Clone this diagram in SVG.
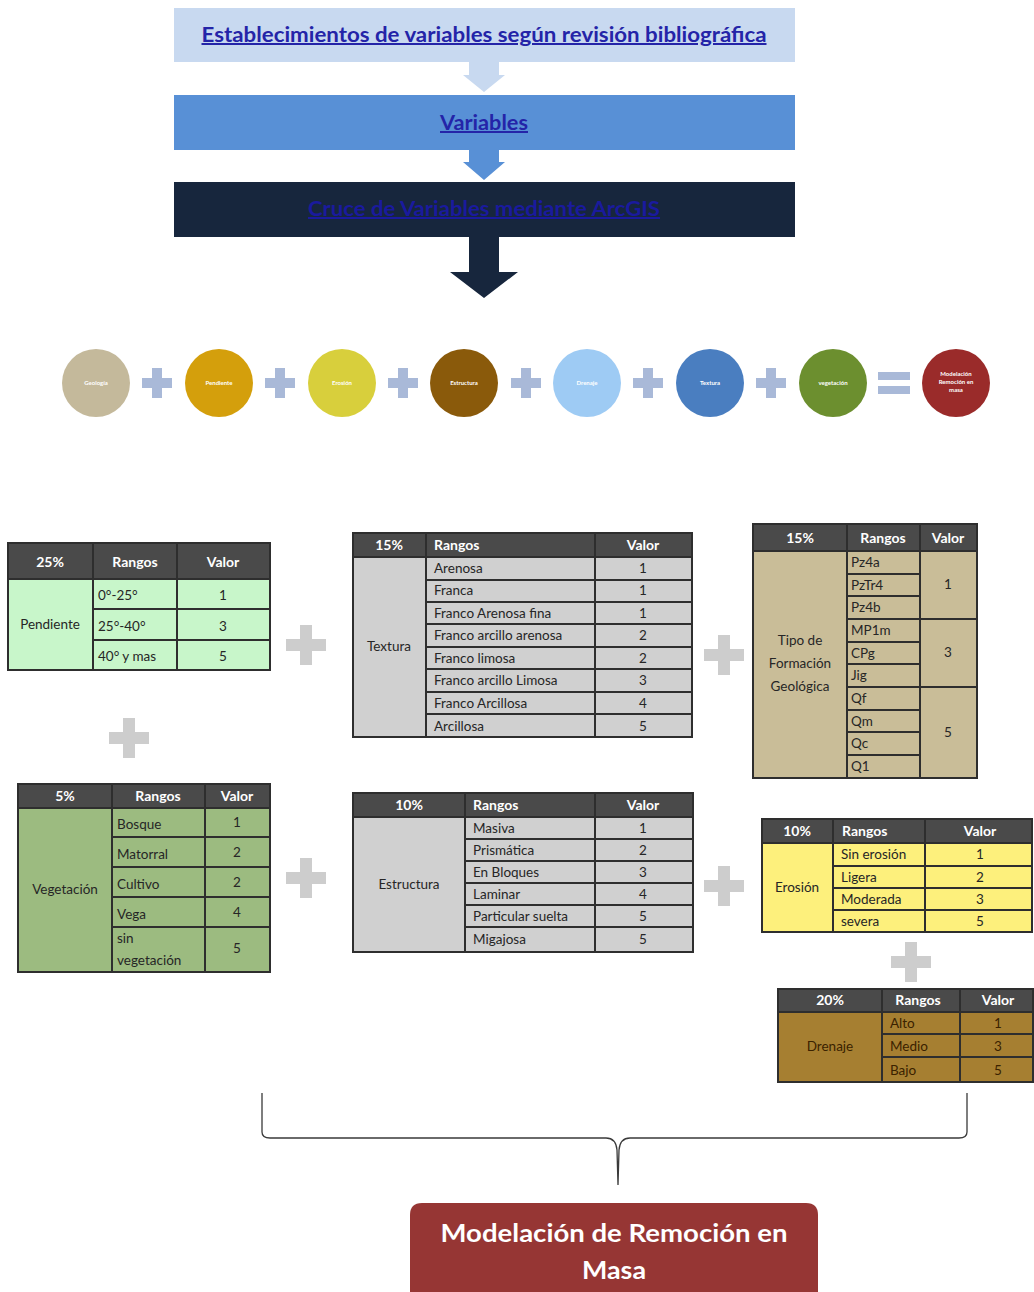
<svg xmlns="http://www.w3.org/2000/svg" width="1034" height="1292" viewBox="0 0 1034 1292">
<style>
text{font-family:Lato,"Liberation Sans",sans-serif;}
.ban{font-size:20px;font-weight:bold;fill:#2424a8;text-decoration:underline;text-anchor:middle;}
.hd{fill:#4a4a4a;}
.ht{font-size:14px;font-weight:bold;fill:#ffffff;}
.bt{font-size:13.5px;fill:#262626;}
.c{text-anchor:middle;}
.grid{stroke:#2e2e2e;stroke-width:2;fill:none;}
.plus{fill:#cdcdcd;}
.bplus{fill:#a9b9d8;}
.ct{font-size:6px;fill:#ffffff;text-anchor:middle;font-weight:bold;}
</style>
<rect width="1034" height="1292" fill="#ffffff"/>

<g id="banner1">
<rect x="174" y="8" width="621" height="54" fill="#c8d9f0"/>
<text class="ban" x="484" y="42" textLength="565" lengthAdjust="spacingAndGlyphs">Establecimientos de variables según revisión bibliográfica</text>
</g>
<g id="banner2">
<rect x="174" y="95" width="621" height="55" fill="#5890d6"/>
<text class="ban" x="484" y="130" textLength="88" lengthAdjust="spacingAndGlyphs">Variables</text>
</g>
<g id="banner3">
<rect x="174" y="182" width="621" height="55" fill="#17263d"/>
<text class="ban" x="484" y="216" style="fill:#1a1a9e" textLength="352" lengthAdjust="spacingAndGlyphs">Cruce de Variables mediante ArcGIS</text>
</g>

<g id="connectors">
<polygon points="469,62 499,62 499,75 505,75 484,92 463,75 469,75" fill="#c8d9f0"/>
<polygon points="469,150 499,150 499,162 505,162 484,180 463,162 469,162" fill="#5890d6"/>
<polygon points="469,237 499,237 499,272 518,272 484,298 450,272 469,272" fill="#17263d"/>
<path d="M262,1093 L262,1132 Q262,1138 270,1138 L606,1138 Q616,1138 617,1150 L618,1185 M618,1185 L619,1150 Q620,1138 630,1138 L959,1138 Q967,1138 967,1132 L967,1093" fill="none" stroke="#3a3a3a" stroke-width="1.3"/>
</g>

<g id="circles">
<g id="c-geologia"><circle cx="96" cy="383" r="34" fill="#c4b99b"/><text class="ct" x="96" y="385">Geología</text></g>
<g id="p1"><rect class="bplus" x="142" y="378" width="30" height="10"/><rect class="bplus" x="152" y="368" width="10" height="30"/></g>
<g id="c-pendiente"><circle cx="219" cy="383" r="34" fill="#d49f0c"/><text class="ct" x="219" y="385">Pendiente</text></g>
<g id="p2"><rect class="bplus" x="265" y="378" width="30" height="10"/><rect class="bplus" x="275" y="368" width="10" height="30"/></g>
<g id="c-erosion"><circle cx="342" cy="383" r="34" fill="#d8cf3c"/><text class="ct" x="342" y="385">Erosión</text></g>
<g id="p3"><rect class="bplus" x="388" y="378" width="30" height="10"/><rect class="bplus" x="398" y="368" width="10" height="30"/></g>
<g id="c-estructura"><circle cx="464" cy="383" r="34" fill="#8a5a0b"/><text class="ct" x="464" y="385">Estructura</text></g>
<g id="p4"><rect class="bplus" x="511" y="378" width="30" height="10"/><rect class="bplus" x="521" y="368" width="10" height="30"/></g>
<g id="c-drenaje"><circle cx="587" cy="383" r="34" fill="#9ecbf4"/><text class="ct" x="587" y="385">Drenaje</text></g>
<g id="p5"><rect class="bplus" x="633" y="378" width="30" height="10"/><rect class="bplus" x="643" y="368" width="10" height="30"/></g>
<g id="c-textura"><circle cx="710" cy="383" r="34" fill="#4a7ec0"/><text class="ct" x="710" y="385">Textura</text></g>
<g id="p6"><rect class="bplus" x="756" y="378" width="30" height="10"/><rect class="bplus" x="766" y="368" width="10" height="30"/></g>
<g id="c-vegetacion"><circle cx="833" cy="383" r="34" fill="#6c8f2f"/><text class="ct" x="833" y="385">vegetación</text></g>
<g id="eq"><rect class="bplus" x="878" y="372" width="32" height="8"/><rect class="bplus" x="878" y="386" width="32" height="8"/></g>
<g id="c-modelacion"><circle cx="956" cy="383" r="34" fill="#9a2b2a"/>
<text class="ct" x="956" y="376">Modelación</text><text class="ct" x="956" y="384">Remoción en</text><text class="ct" x="956" y="392">masa</text></g>
</g>

<g id="t-pendiente">
<rect x="8" y="579" width="262" height="91" fill="#c8f6ca"/>
<rect class="hd" x="8" y="543" width="262" height="36"/>
<path class="grid" d="M8,543 H270 V670 H8 Z M93,543 V670 M177,543 V670 M8,579 H270 M93,609 H270 M93,640 H270"/>
<text class="ht c" x="50" y="567">25%</text><text class="ht c" x="135" y="567">Rangos</text><text class="ht c" x="223" y="567">Valor</text>
<text class="bt c" x="50" y="629">Pendiente</text>
<text class="bt" x="98" y="600">0°-25°</text><text class="bt c" x="223" y="600">1</text>
<text class="bt" x="98" y="631">25°-40°</text><text class="bt c" x="223" y="631">3</text>
<text class="bt" x="98" y="661">40° y mas</text><text class="bt c" x="223" y="661">5</text>
</g>

<g id="t-textura">
<rect x="353" y="557" width="339" height="180" fill="#d0d0d0"/>
<rect class="hd" x="353" y="533" width="339" height="24"/>
<path class="grid" d="M353,533 H692 V737 H353 Z M426,533 V737 M595,533 V737 M353,557 H692 M426,580 H692 M426,602 H692 M426,624 H692 M426,647 H692 M426,669 H692 M426,692 H692 M426,714 H692"/>
<text class="ht c" x="389" y="550">15%</text><text class="ht" x="434" y="550">Rangos</text><text class="ht c" x="643" y="550">Valor</text>
<text class="bt c" x="389" y="651">Textura</text>
<text class="bt" x="434" y="573">Arenosa</text><text class="bt c" x="643" y="573">1</text>
<text class="bt" x="434" y="595">Franca</text><text class="bt c" x="643" y="595">1</text>
<text class="bt" x="434" y="618">Franco Arenosa fina</text><text class="bt c" x="643" y="618">1</text>
<text class="bt" x="434" y="640">Franco arcillo arenosa</text><text class="bt c" x="643" y="640">2</text>
<text class="bt" x="434" y="663">Franco limosa</text><text class="bt c" x="643" y="663">2</text>
<text class="bt" x="434" y="685">Franco arcillo Limosa</text><text class="bt c" x="643" y="685">3</text>
<text class="bt" x="434" y="708">Franco Arcillosa</text><text class="bt c" x="643" y="708">4</text>
<text class="bt" x="434" y="731">Arcillosa</text><text class="bt c" x="643" y="731">5</text>
</g>

<g id="t-geologia">
<rect x="753" y="551" width="224" height="227" fill="#c9bd98"/>
<rect class="hd" x="753" y="524" width="224" height="27"/>
<path class="grid" d="M753,524 H977 V778 H753 Z M847,524 V778 M920,524 V778 M753,551 H977 M847,574 H920 M847,596 H920 M847,619 H977 M847,642 H920 M847,664 H920 M847,687 H977 M847,710 H920 M847,732 H920 M847,755 H920"/>
<text class="ht c" x="800" y="543">15%</text><text class="ht c" x="883" y="543">Rangos</text><text class="ht c" x="948" y="543">Valor</text>
<text class="bt c" x="800" y="645">Tipo de</text><text class="bt c" x="800" y="668">Formación</text><text class="bt c" x="800" y="691">Geológica</text>
<text class="bt" x="851" y="567">Pz4a</text>
<text class="bt" x="851" y="590">PzTr4</text>
<text class="bt" x="851" y="612">Pz4b</text>
<text class="bt" x="851" y="635">MP1m</text>
<text class="bt" x="851" y="658">CPg</text>
<text class="bt" x="851" y="680">Jig</text>
<text class="bt" x="851" y="703">Qf</text>
<text class="bt" x="851" y="726">Qm</text>
<text class="bt" x="851" y="748">Qc</text>
<text class="bt" x="851" y="771">Q1</text>
<text class="bt c" x="948" y="589">1</text><text class="bt c" x="948" y="657">3</text><text class="bt c" x="948" y="737">5</text>
</g>

<g id="t-vegetacion">
<rect x="18" y="808" width="252" height="164" fill="#9cbb80"/>
<rect class="hd" x="18" y="784" width="252" height="24"/>
<path class="grid" d="M18,784 H270 V972 H18 Z M112,784 V972 M205,784 V972 M18,808 H270 M112,837 H270 M112,867 H270 M112,897 H270 M112,927 H270"/>
<text class="ht c" x="65" y="801">5%</text><text class="ht c" x="158" y="801">Rangos</text><text class="ht c" x="237" y="801">Valor</text>
<text class="bt c" x="65" y="894">Vegetación</text>
<text class="bt" x="117" y="829">Bosque</text><text class="bt c" x="237" y="827">1</text>
<text class="bt" x="117" y="859">Matorral</text><text class="bt c" x="237" y="857">2</text>
<text class="bt" x="117" y="889">Cultivo</text><text class="bt c" x="237" y="887">2</text>
<text class="bt" x="117" y="919">Vega</text><text class="bt c" x="237" y="917">4</text>
<text class="bt" x="117" y="943">sin</text><text class="bt" x="117" y="965">vegetación</text><text class="bt c" x="237" y="953">5</text>
</g>

<g id="t-estructura">
<rect x="353" y="817" width="340" height="135" fill="#d0d0d0"/>
<rect class="hd" x="353" y="793" width="340" height="24"/>
<path class="grid" d="M353,793 H693 V952 H353 Z M465,793 V952 M595,793 V952 M353,817 H693 M465,839 H693 M465,861 H693 M465,883 H693 M465,905 H693 M465,927 H693"/>
<text class="ht c" x="409" y="810">10%</text><text class="ht" x="473" y="810">Rangos</text><text class="ht c" x="643" y="810">Valor</text>
<text class="bt c" x="409" y="889">Estructura</text>
<text class="bt" x="473" y="833">Masiva</text><text class="bt c" x="643" y="833">1</text>
<text class="bt" x="473" y="855">Prismática</text><text class="bt c" x="643" y="855">2</text>
<text class="bt" x="473" y="877">En Bloques</text><text class="bt c" x="643" y="877">3</text>
<text class="bt" x="473" y="899">Laminar</text><text class="bt c" x="643" y="899">4</text>
<text class="bt" x="473" y="921">Particular suelta</text><text class="bt c" x="643" y="921">5</text>
<text class="bt" x="473" y="944">Migajosa</text><text class="bt c" x="643" y="944">5</text>
</g>

<g id="t-erosion">
<rect x="762" y="843" width="270" height="89" fill="#fdf07c"/>
<rect class="hd" x="762" y="819" width="270" height="24"/>
<path class="grid" d="M762,819 H1032 V932 H762 Z M833,819 V932 M925,819 V932 M762,843 H1032 M833,866 H1032 M833,888 H1032 M833,910 H1032"/>
<text class="ht c" x="797" y="836">10%</text><text class="ht" x="842" y="836">Rangos</text><text class="ht c" x="980" y="836">Valor</text>
<text class="bt c" x="797" y="892">Erosión</text>
<text class="bt" x="841" y="859">Sin erosión</text><text class="bt c" x="980" y="859">1</text>
<text class="bt" x="841" y="882">Ligera</text><text class="bt c" x="980" y="882">2</text>
<text class="bt" x="841" y="904">Moderada</text><text class="bt c" x="980" y="904">3</text>
<text class="bt" x="841" y="926">severa</text><text class="bt c" x="980" y="926">5</text>
</g>

<g id="t-drenaje">
<rect x="778" y="1012" width="255" height="70" fill="#a67f31"/>
<rect class="hd" x="778" y="989" width="255" height="23"/>
<path class="grid" d="M778,989 H1033 V1082 H778 Z M882,989 V1082 M960,989 V1082 M778,1012 H1033 M882,1034 H1033 M882,1057 H1033"/>
<text class="ht c" x="830" y="1005">20%</text><text class="ht c" x="918" y="1005">Rangos</text><text class="ht c" x="998" y="1005">Valor</text>
<text class="bt c" x="830" y="1051" style="fill:#3a2200">Drenaje</text>
<text class="bt" x="890" y="1028" style="fill:#3a2200">Alto</text><text class="bt c" x="998" y="1028" style="fill:#3a2200">1</text>
<text class="bt" x="890" y="1051" style="fill:#3a2200">Medio</text><text class="bt c" x="998" y="1051" style="fill:#3a2200">3</text>
<text class="bt" x="890" y="1075" style="fill:#3a2200">Bajo</text><text class="bt c" x="998" y="1075" style="fill:#3a2200">5</text>
</g>

<g id="plus-signs">
<g><rect class="plus" x="286" y="639" width="40" height="12"/><rect class="plus" x="300" y="625" width="12" height="40"/></g>
<g><rect class="plus" x="109" y="732" width="40" height="12"/><rect class="plus" x="123" y="718" width="12" height="40"/></g>
<g><rect class="plus" x="704" y="649" width="40" height="12"/><rect class="plus" x="718" y="635" width="12" height="40"/></g>
<g><rect class="plus" x="286" y="872" width="40" height="12"/><rect class="plus" x="300" y="858" width="12" height="40"/></g>
<g><rect class="plus" x="704" y="880" width="40" height="12"/><rect class="plus" x="718" y="866" width="12" height="40"/></g>
<g><rect class="plus" x="891" y="956" width="40" height="12"/><rect class="plus" x="905" y="942" width="12" height="40"/></g>
</g>

<g id="result">
<path d="M410,1215 Q410,1203 422,1203 L806,1203 Q818,1203 818,1215 L818,1292 L410,1292 Z" fill="#963634"/>
<text x="614" y="1242" textLength="347" lengthAdjust="spacingAndGlyphs" style="font-size:25px;font-weight:bold;fill:#ffffff;text-anchor:middle">Modelación de Remoción en</text>
<text x="614" y="1279" textLength="64" lengthAdjust="spacingAndGlyphs" style="font-size:25px;font-weight:bold;fill:#ffffff;text-anchor:middle">Masa</text>
</g>
</svg>
